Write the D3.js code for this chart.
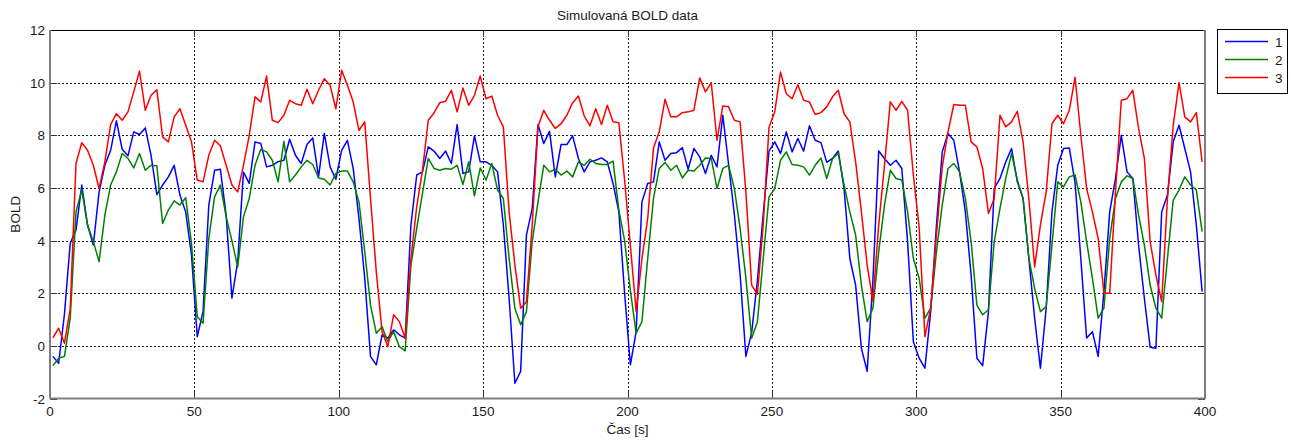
<!DOCTYPE html>
<html>
<head>
<meta charset="utf-8">
<script src="https://cdn.jsdelivr.net/npm/d3@7"></script>
<style>
  body { margin: 0; background: #fff; }
  text { font-family: "Liberation Sans", Arial, sans-serif; fill: #1a1a1a; }
</style>
</head>
<body>
<svg id="chart" width="1291" height="440"></svg>
<script>
// sample times (s), one sample every 2 s
const times = d3.range(200).map(k => 2 * k + 1);

const series1 = [
  -0.40, -0.66, 1.2, 3.9, 4.4, 6.11, 4.59, 3.83, 5.85, 6.86,
  7.43, 8.55, 7.47, 7.22, 8.13, 8.03, 8.28, 7.24, 5.75, 6.11,
  6.42, 6.86, 5.73, 5.09, 3.45, 0.35, 1.30, 5.35, 6.67, 6.71,
  4.97, 1.81, 3.2, 6.6, 6.17, 7.75, 7.69, 6.8, 6.86, 7.0,
  7.05, 7.85, 7.24, 6.93, 7.65, 7.90, 6.42, 8.07, 6.80, 6.33,
  7.43, 7.81, 6.74, 4.84, 2.57, -0.40, -0.72, 0.42, 0.29, 0.61,
  0.42, 0.29, 4.59, 6.49, 6.61, 7.56, 7.40, 7.12, 7.40, 6.93,
  8.41, 6.55, 6.61, 7.98, 6.99, 6.99, 6.86, 6.61, 4.59, 1.81,
  -1.42, -0.97, 4.21, 5.22, 8.41, 7.69, 8.15, 6.42, 7.65, 7.65,
  7.98, 7.12, 6.61, 6.99, 7.05, 7.14, 6.99, 6.17, 5.09, 2.0,
  -0.72, 0.54, 5.47, 6.17, 6.23, 7.75, 7.05, 7.31, 7.34, 7.53,
  6.71, 7.50, 7.18, 6.55, 7.24, 6.80, 8.76, 6.9, 5.0, 2.7,
  -0.4, 0.5, 2.5, 5.0, 7.4, 7.75, 7.31, 8.13, 7.37, 7.88,
  7.40, 8.36, 7.81, 7.72, 6.97, 7.12, 7.40, 5.98, 3.32, 2.31,
  -0.09, -0.97, 2.5, 7.40, 7.12, 6.86, 7.05, 6.74, 3.96, 0.16,
  -0.47, -0.85, 1.30, 4.59, 7.37, 8.07, 7.81, 6.61, 5.09, 2.69,
  -0.47, -0.75, 1.30, 5.98, 6.36, 6.99, 7.50, 6.23, 5.6, 3.32,
  1.05, -0.85, 1.43, 5.09, 6.86, 7.50, 7.52, 6.2, 3.3, 0.3,
  0.54, -0.40, 2.06, 5.09, 6.36, 8.0, 6.61, 6.36, 3.83, 1.81,
  -0.05, -0.09, 5.09, 5.73, 7.75, 8.38, 7.50, 6.61, 4.59, 2.06
];

const series2 = [
  -0.75, -0.47, -0.40, 1.05, 5.09, 5.92, 4.59, 3.96, 3.20, 4.97,
  6.11, 6.61, 7.31, 7.12, 6.76, 7.31, 6.67, 6.86, 6.84, 4.65,
  5.16, 5.51, 5.35, 5.63, 3.89, 1.11, 0.86, 4.08, 5.66, 6.11,
  4.91, 4.0, 3.0, 4.9, 5.6, 6.86, 7.47, 7.37, 7.05, 6.23,
  7.77, 6.23, 6.49, 6.80, 7.05, 6.89, 6.38, 6.33, 6.11, 6.55,
  6.64, 6.64, 6.23, 5.47, 3.58, 1.55, 0.48, 0.73, 0.16, 0.54,
  -0.03, -0.19, 3.07, 4.46, 5.79, 7.12, 6.74, 6.67, 6.74, 6.71,
  6.86, 6.13, 6.99, 5.70, 6.76, 6.30, 6.93, 5.92, 5.6, 3.32,
  1.43, 0.80, 1.30, 3.96, 5.47, 6.86, 6.61, 6.71, 6.49, 6.64,
  6.42, 6.99, 6.86, 7.09, 6.93, 6.89, 6.89, 7.02, 5.16, 4.0,
  2.1, 0.48, 0.92, 3.32, 5.6, 6.74, 6.97, 6.67, 6.86, 6.38,
  6.67, 6.64, 6.86, 7.14, 7.12, 5.98, 6.74, 6.86, 5.98, 4.46,
  2.57, 0.29, 0.92, 3.32, 5.66, 5.98, 7.05, 7.37, 6.89, 6.86,
  6.80, 6.49, 6.86, 7.14, 6.36, 7.12, 7.31, 6.11, 5.09, 4.21,
  2.31, 0.92, 1.43, 3.58, 5.35, 6.67, 6.36, 6.30, 5.09, 3.32,
  2.57, 1.05, 1.43, 3.58, 5.35, 6.74, 6.93, 6.61, 5.6, 3.96,
  1.55, 1.18, 1.37, 3.96, 5.22, 6.36, 7.31, 6.3, 5.6, 3.32,
  2.19, 1.30, 1.49, 3.83, 6.23, 6.04, 6.42, 6.49, 5.47, 3.96,
  2.57, 1.05, 1.43, 4.08, 5.6, 6.23, 6.46, 6.36, 4.97, 3.83,
  2.31, 1.43, 1.05, 3.32, 5.54, 5.92, 6.42, 6.11, 5.92, 4.34
];

const series3 = [
  0.3, 0.67, 0.1, 1.4, 6.93, 7.72, 7.43, 6.86, 5.98, 6.99,
  8.41, 8.82, 8.57, 8.89, 9.65, 10.44, 8.95, 9.52, 9.73, 7.94,
  7.75, 8.70, 9.01, 8.38, 7.75, 6.30, 6.23, 7.24, 7.81, 7.60,
  6.86, 6.11, 5.85, 6.86, 8.0, 9.46, 9.27, 10.25, 8.57, 8.48,
  8.76, 9.33, 9.20, 9.14, 9.75, 9.20, 9.71, 10.15, 9.90, 9.01,
  10.47, 9.90, 9.27, 8.19, 8.51, 5.60, 2.82, 0.54, -0.03, 1.18,
  0.92, 0.29, 3.32, 5.28, 6.67, 8.57, 8.85, 9.24, 9.29, 9.71,
  8.89, 9.80, 9.14, 9.52, 10.25, 9.39, 9.49, 8.76, 8.32, 5.09,
  3.07, 1.43, 1.68, 4.59, 8.32, 8.95, 8.57, 8.26, 8.44, 8.76,
  9.24, 9.49, 8.74, 8.36, 9.01, 8.41, 9.14, 8.51, 8.48, 6.3,
  3.8, 1.30, 3.32, 4.84, 7.52, 8.13, 9.37, 8.70, 8.70, 8.86,
  8.89, 8.95, 10.18, 9.65, 10.0, 7.81, 9.11, 9.08, 8.57, 8.51,
  5.85, 2.31, 1.96, 4.59, 8.3, 8.89, 10.40, 9.58, 9.39, 9.92,
  9.33, 9.27, 8.79, 8.86, 9.08, 9.46, 9.71, 8.82, 8.51, 6.99,
  5.09, 3.07, 1.7, 4.59, 6.86, 9.27, 8.95, 9.29, 8.95, 6.49,
  4.5, 0.35, 1.43, 4.2, 6.8, 8.13, 9.17, 9.14, 9.14, 7.75,
  7.56, 6.74, 5.03, 5.6, 8.76, 8.32, 8.51, 8.91, 7.75, 5.6,
  3.0, 4.59, 5.85, 8.44, 8.76, 8.44, 8.95, 10.2, 8.0, 5.98,
  5.09, 4.08, 2.0, 2.0, 5.85, 9.33, 9.39, 9.71, 8.26, 7.12,
  3.96, 2.69, 1.68, 5.6, 8.38, 10.0, 8.7, 8.51, 8.86, 6.99
];

const seriesNames = ["1", "2", "3"];
const seriesColors = ["#0000ff", "#008000", "#ff0000"];
const xTicks = [0, 50, 100, 150, 200, 250, 300, 350, 400];
const yTicks = [-2, 0, 2, 4, 6, 8, 10, 12];

const titleText = "Simulovaná BOLD data";
const xLabel = "Čas [s]";
const yLabel = "BOLD";

const margin = {left: 50, top: 30, right: 86, bottom: 41.5};
const W = 1291, H = 440;
const pw = W - margin.left - margin.right;
const ph = H - margin.top - margin.bottom;

const svg = d3.select("#chart");
const g = svg.append("g").attr("transform", `translate(${margin.left},${margin.top})`);

const x = d3.scaleLinear().domain([0, 400]).range([0, pw]);
const y = d3.scaleLinear().domain([-2, 12]).range([ph, 0]);

// dotted grid
g.append("g").selectAll("line")
  .data(xTicks.slice(1, -1)).enter().append("line")
  .attr("x1", d => Math.round(x(d)) + 0.5).attr("x2", d => Math.round(x(d)) + 0.5)
  .attr("y1", 0).attr("y2", ph)
  .attr("stroke", "#222").attr("stroke-dasharray", "2,2");
g.append("g").selectAll("line")
  .data(yTicks.slice(1, -1)).enter().append("line")
  .attr("y1", d => Math.round(y(d)) + 0.5).attr("y2", d => Math.round(y(d)) + 0.5)
  .attr("x1", 0).attr("x2", pw)
  .attr("stroke", "#222").attr("stroke-dasharray", "2,2");

// tick marks inside on all four sides
const tl = 7;
xTicks.forEach(d => {
  const xx = Math.round(x(d)) + 0.5;
  g.append("line").attr("x1", xx).attr("x2", xx).attr("y1", ph).attr("y2", ph - tl).attr("stroke", "#333");
  g.append("line").attr("x1", xx).attr("x2", xx).attr("y1", 0).attr("y2", tl).attr("stroke", "#333");
});
yTicks.forEach(d => {
  const yy = Math.round(y(d)) + 0.5;
  g.append("line").attr("y1", yy).attr("y2", yy).attr("x1", 0).attr("x2", tl).attr("stroke", "#333");
  g.append("line").attr("y1", yy).attr("y2", yy).attr("x1", pw).attr("x2", pw - tl).attr("stroke", "#333");
});

// the three curves
const clip = svg.append("clipPath").attr("id", "plotclip")
  .append("rect").attr("width", pw).attr("height", ph);
const line = d3.line().x((d, i) => x(times[i])).y(d => y(d));
[series1, series2, series3].forEach((s, i) => {
  g.append("path")
    .datum(s)
    .attr("d", line)
    .attr("fill", "none")
    .attr("stroke", seriesColors[i])
    .attr("stroke-width", 1.5)
    .attr("stroke-linejoin", "round")
    .attr("clip-path", "url(#plotclip)");
});

// axes box: grey left/bottom/right, black top
g.append("line").attr("x1", 0).attr("x2", pw).attr("y1", 0.5).attr("y2", 0.5).attr("stroke", "#000");
g.append("line").attr("x1", 0).attr("x2", 0).attr("y1", 0).attr("y2", ph).attr("stroke", "#7f7f7f").attr("stroke-width", 2);
g.append("line").attr("x1", pw).attr("x2", pw).attr("y1", 0).attr("y2", ph).attr("stroke", "#7f7f7f").attr("stroke-width", 2);
g.append("line").attr("x1", 0).attr("x2", pw).attr("y1", ph).attr("y2", ph).attr("stroke", "#7f7f7f").attr("stroke-width", 2);

// tick labels
g.append("g").selectAll("text")
  .data(xTicks).enter().append("text")
  .attr("x", d => x(d)).attr("y", ph + 17)
  .attr("text-anchor", "middle")
  .style("font-size", "13.5px")
  .text(d => d);
g.append("g").selectAll("text")
  .data(yTicks).enter().append("text")
  .attr("x", -5).attr("y", d => y(d) + 5)
  .attr("text-anchor", "end")
  .style("font-size", "13.5px")
  .text(d => d);

// title and axis labels
svg.append("text").attr("x", margin.left + pw / 2).attr("y", 20)
  .attr("text-anchor", "middle").style("font-size", "13.5px").text(titleText);
svg.append("text").attr("x", margin.left + pw / 2).attr("y", 434)
  .attr("text-anchor", "middle").style("font-size", "13.5px").text(xLabel);
svg.append("text").attr("transform", `translate(20,${margin.top + ph / 2}) rotate(-90)`)
  .attr("text-anchor", "middle").style("font-size", "13.5px").text(yLabel);

// legend
const lg = svg.append("g").attr("transform", "translate(1217,29)");
lg.append("rect").attr("x", 0.5).attr("y", 0.5).attr("width", 70).attr("height", 64)
  .attr("fill", "#fff").attr("stroke", "#000");
seriesNames.forEach((n, i) => {
  const yy = 12.5 + i * 18;
  lg.append("line").attr("x1", 8).attr("x2", 51).attr("y1", yy).attr("y2", yy)
    .attr("stroke", seriesColors[i]).attr("stroke-width", 1.5);
  lg.append("text").attr("x", 58).attr("y", yy + 5).style("font-size", "13.5px").text(n);
});
</script>
</body>
</html>
